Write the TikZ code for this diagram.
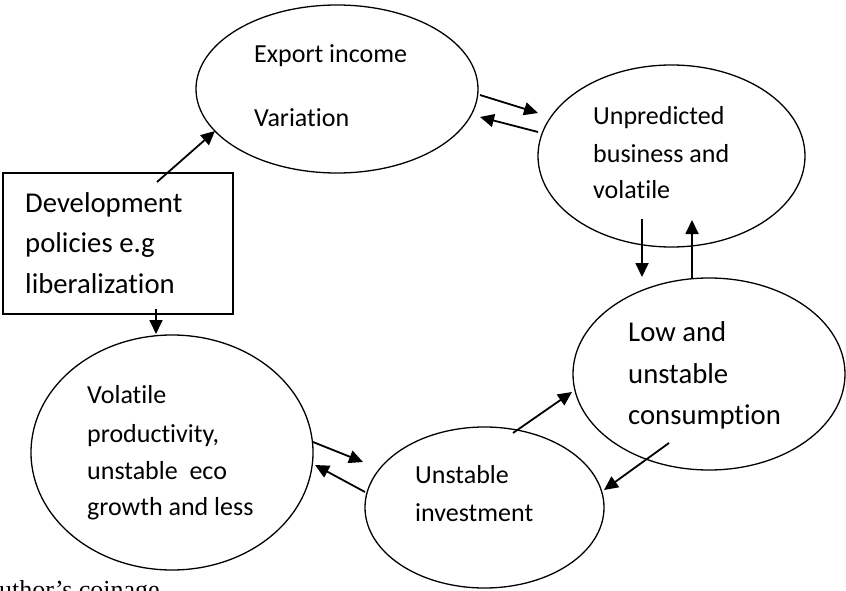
\documentclass[tikz,border=0pt]{standalone}
\usepackage{fontspec}
\setmainfont{Carlito}[Ligatures=NoCommon]
\newfontfamily\timesfont{Liberation Serif}
\usetikzlibrary{shapes.geometric,arrows.meta}
\begin{document}
\begin{tikzpicture}[x=1pt,y=-1pt,
  oval/.style={draw,shape=ellipse,inner sep=0pt,line width=1.3pt},
  boxed/.style={draw,rectangle,inner sep=0pt,line width=1.6pt},
  txt/.style={anchor=base west,inner sep=0pt,font=\fontsize{26}{31}\selectfont},
  bigtxt/.style={anchor=base west,inner sep=0pt,font=\fontsize{28.7}{34}\selectfont},
  arr/.style={line width=1.8pt,-{Triangle[length=14pt,width=13pt]}}]
\useasboundingbox (0,0) rectangle (846,591);

% shapes
\node[oval,minimum width=282pt,minimum height=168pt] (exp) at (337,89) {};
\node[oval,minimum width=267pt,minimum height=182pt] (unp) at (671.5,156) {};
\node[oval,minimum width=272pt,minimum height=192pt] (low) at (709,374) {};
\node[oval,minimum width=239pt,minimum height=161pt] (inv) at (484.5,507.5) {};
\node[oval,minimum width=282pt,minimum height=235pt] (vol) at (172,452.5) {};
\node[boxed,minimum width=230pt,minimum height=141pt] (box) at (118,243.5) {};

% texts
\node[txt] (exp1) at (254,63) {Export income};
\node[txt] (exp2) at (254,127) {Variation};
\node[txt] (unp1) at (593,125) {Unpredicted};
\node[txt] (unp2) at (593,162) {business and};
\node[txt] (unp3) at (593,198) {volatile};
\node[bigtxt] (box1) at (25,212) {Development};
\node[bigtxt] (box2) at (25,252) {policies e.g};
\node[bigtxt] (box3) at (25,293) {liberalization};
\node[bigtxt] (low1) at (628,341) {Low and};
\node[bigtxt] (low2) at (628,383) {unstable};
\node[bigtxt] (low3) at (628,424) {consumption};
\node[txt] (inv1) at (415,483) {Unstable};
\node[txt] (inv2) at (415,521) {investment};
\node[txt] (vol1) at (87,403) {Volatile};
\node[txt] (vol2) at (87,442) {productivity,};
\node[txt] (vol3) at (87,479) {unstable\ \ eco};
\node[txt] (vol4) at (87,515) {growth and less};
\node[anchor=base west,inner sep=0pt,font=\timesfont\fontsize{26}{31}\selectfont] (src) at (-1,598) {uthor’s coinage};

% arrow end points
\coordinate (a1s) at (480,95);  \coordinate (a1e) at (538,113);
\coordinate (a2s) at (538,132); \coordinate (a2e) at (480,117);
\coordinate (a3s) at (642,219); \coordinate (a3e) at (642,277);
\coordinate (a4s) at (692,278); \coordinate (a4e) at (692,220);
\coordinate (a5s) at (669,443); \coordinate (a5e) at (604,490);
\coordinate (a6s) at (513,433); \coordinate (a6e) at (572,392);
\coordinate (a7s) at (365,492); \coordinate (a7e) at (315,465);
\coordinate (a8s) at (313,442); \coordinate (a8e) at (363,462);
\coordinate (a9s) at (157,182); \coordinate (a9e) at (215,131);
\coordinate (a10s) at (156,309); \coordinate (a10e) at (156,334);

\draw[arr] (a1s) -- (a1e);
\draw[arr] (a2s) -- (a2e);
\draw[arr] (a3s) -- (a3e);
\draw[arr] (a4s) -- (a4e);
\draw[arr] (a5s) -- (a5e);
\draw[arr] (a6s) -- (a6e);
\draw[arr] (a7s) -- (a7e);
\draw[arr] (a8s) -- (a8e);
\draw[arr] (a9s) -- (a9e);
\draw[arr] (a10s) -- (a10e);
\end{tikzpicture}
\end{document}
